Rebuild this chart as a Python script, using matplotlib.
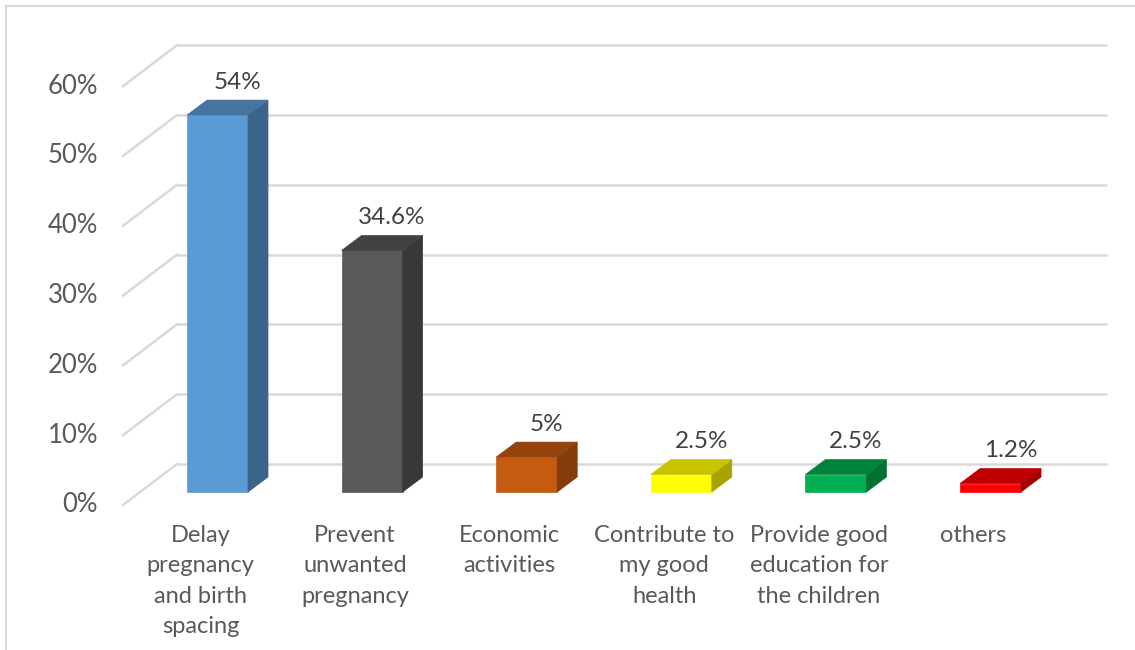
import matplotlib.pyplot as plt
from matplotlib.patches import Polygon, Rectangle

plt.rcParams["font.family"] = ["Lato", "DejaVu Sans"]

categories = ["Delay\npregnancy\nand birth\nspacing", "Prevent\nunwanted\npregnancy",
              "Economic\nactivities", "Contribute to\nmy good\nhealth",
              "Provide good\neducation for\nthe children", "others"]
values = [54, 34.6, 5, 2.5, 2.5, 1.2]
ticks = [0, 10, 20, 30, 40, 50, 60]
front_colors = ["#5B9BD5", "#595959", "#C55A11", "#FFFF00", "#00B050", "#FF0000"]
top_colors = ["#4574A0", "#424242", "#96440C", "#C8C400", "#00833B", "#C00000"]
side_colors = ["#3A6489", "#383838", "#843C0C", "#A6A300", "#007033", "#A00000"]

TXT = "#595959"
GRID = "#D9D9D9"

# pseudo-3D offsets (data units: categories, percent)
PX, PY = 1 / 154.6, 1 / 6.98          # one pixel in data units
BAR_W = 61 * PX
DEPTH = (20 * PX, 15 * PY)            # bar depth
WALL = (37 * PX, 28 * PY)             # back wall offset from bar front
FRONT = (-17 * PX, -13 * PY)          # floor front edge offset
X_WALL_L, X_WALL_R = -0.262, 5.754

fig = plt.figure(figsize=(11.35, 6.5), dpi=100)
ax = fig.add_axes([0, 0, 1, 1])
ax.set_xlim(-217.5 * PX, (1135 - 217.5) * PX)
ax.set_ylim(-158 * PY, 492 * PY)
ax.axis("off")

# chart border
fig.patches.append(Rectangle((6 / 1135, -0.1), 1.2, 1.1 - 6 / 650, transform=fig.transFigure,
                             fill=False, edgecolor=GRID, lw=1.5))

# gridlines: back wall + left wall diagonal
for t in ticks:
    yw = t + WALL[1]
    ax.plot([X_WALL_L, X_WALL_R], [yw, yw], color=GRID, lw=1.8, zorder=1, solid_capstyle="butt")
    xf = X_WALL_L - (WALL[0] - FRONT[0])
    ax.plot([xf, X_WALL_L], [t + FRONT[1], yw], color=GRID, lw=1.8, zorder=1)
    ax.text(xf - 25 * PX, t + FRONT[1], f"{t}%", ha="right", va="center",
            fontsize=18.5, color=TXT)

# bars
for i, v in enumerate(values):
    x0, x1 = i - BAR_W / 2, i + BAR_W / 2
    dx, dy = DEPTH
    ax.add_patch(Rectangle((x0, 0), BAR_W, v, facecolor=front_colors[i],
                           edgecolor=front_colors[i], lw=0.5, zorder=3))
    ax.add_patch(Polygon([(x1, 0), (x1 + dx, dy), (x1 + dx, v + dy), (x1, v)],
                         closed=True, facecolor=side_colors[i], edgecolor=side_colors[i],
                         lw=0.5, zorder=3))
    ax.add_patch(Polygon([(x0, v), (x1, v), (x1 + dx, v + dy), (x0 + dx, v + dy)],
                         closed=True, facecolor=top_colors[i], edgecolor=top_colors[i],
                         lw=0.5, zorder=3))
    ax.text(i + 20 * PX, v + dy + 18 * PY, f"{v:g}%", ha="center", va="center",
            fontsize=17.5, color="#404040", zorder=4)
    ax.text(i + FRONT[0], -33 * PY, categories[i], ha="center", va="top",
            fontsize=17, color=TXT, linespacing=1.55)

plt.savefig("out.png", dpi=100)
